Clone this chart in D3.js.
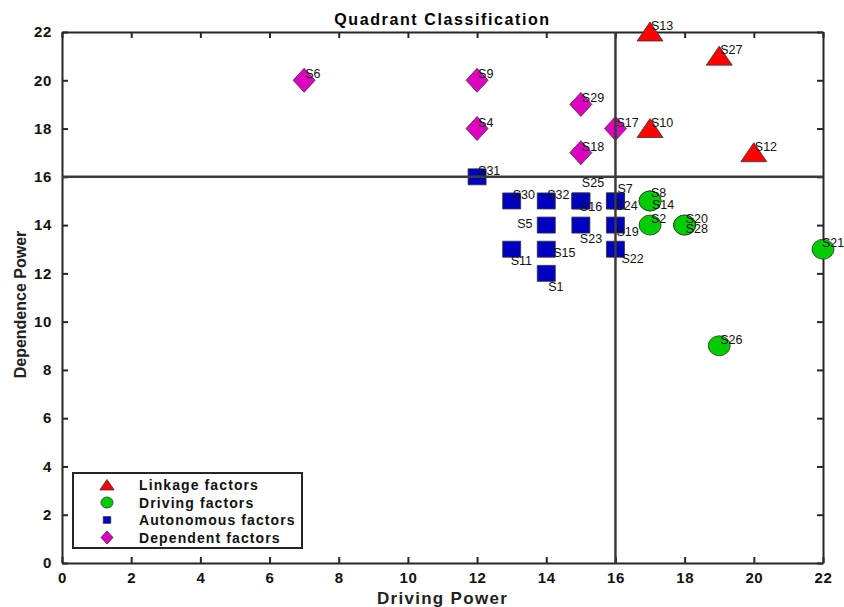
<!DOCTYPE html>
<html>
<head>
<meta charset="utf-8">
<script src="https://cdn.jsdelivr.net/npm/d3@7"></script>
<style>
  body { margin: 0; background: #fff; }
  svg text { font-family: "Liberation Sans", Arial, sans-serif; }
</style>
</head>
<body>
<div id="chart"></div>
<script>
// quadrant data
var linkageNames = ['S13', 'S27', 'S10', 'S12']
var linkageX = [17, 19, 17, 20]
var linkageY = [22, 21, 18, 17]

var drivingNames = ['S8', 'S14', 'S2', 'S20', 'S28', 'S21', 'S26']
var drivingX = [17, 17, 17, 18, 18, 22, 19]
var drivingY = [15, 15, 14, 14, 14, 13, 9]

var autonomousNames = ['S31', 'S30', 'S32', 'S25', 'S16', 'S7', 'S24', 'S5', 'S23', 'S19', 'S11', 'S15', 'S22', 'S1']
var autonomousX = [12, 13, 14, 15, 15, 16, 16, 14, 15, 16, 13, 14, 16, 14]
var autonomousY = [16, 15, 15, 15, 15, 15, 15, 14, 14, 14, 13, 13, 13, 12]

var dependentNames = ['S6', 'S9', 'S4', 'S29', 'S17', 'S18']
var dependentX = [7, 12, 12, 15, 16, 15]
var dependentY = [20, 20, 18, 19, 18, 17]

var xTicks = [0, 2, 4, 6, 8, 10, 12, 14, 16, 18, 20, 22]
var yTicks = [0, 2, 4, 6, 8, 10, 12, 14, 16, 18, 20, 22]
var legendLabels = ['Linkage factors', 'Driving factors', 'Autonomous factors', 'Dependent factors']
var quadrantX = 16, quadrantY = 16

function zipPoints(names, xs, ys, group) {
  return names.map(function(n, i) { return { name: n, x: xs[i], y: ys[i], group: group } })
}

var groups = [
  { key: 'linkage', fill: '#ff0000', points: zipPoints(linkageNames, linkageX, linkageY, 'linkage') },
  { key: 'driving', fill: '#00cc00', points: zipPoints(drivingNames, drivingX, drivingY, 'driving') },
  { key: 'autonomous', fill: '#0000c0', points: zipPoints(autonomousNames, autonomousX, autonomousY, 'autonomous') },
  { key: 'dependent', fill: '#dd00c0', points: zipPoints(dependentNames, dependentX, dependentY, 'dependent') }
]

// label nudges (pixels from the marker), default is up-right
var labelNudge = {
  S25: [0, -12], S16: [-2, 12], S7: [1, -6], S24: [-1, 11],
  S5: [-30, 5], S23: [-2, 20], S19: [0, 13], S11: [-2, 18],
  S15: [6, 10], S22: [5, 16], S1: [1, 20],
  S8: [0, -2], S14: [1, 10], S28: [0, 10], S21: [-2, 0]
}

var width = 844, height = 607
  , margin = { left: 62, right: 21, top: 32, bottom: 44 }
  , xScale = d3.scaleLinear().domain([0, 22]).range([margin.left, width - margin.right])
  , yScale = d3.scaleLinear().domain([0, 22]).range([height - margin.bottom, margin.top])
  , svg = d3.select('#chart').append('svg')
    .attr('width', width)
    .attr('height', height)

// axes with inward ticks on all four sides
var axisColor = '#262626'
function styleAxis(g) {
  g.select('.domain').attr('stroke', axisColor).attr('stroke-width', 2)
  g.selectAll('.tick line').attr('stroke', axisColor).attr('stroke-width', 2)
  g.selectAll('.tick text')
    .attr('fill', '#111')
    .style('font-size', '15px')
    .style('font-weight', 'bold')
    .style('letter-spacing', '0.6px')
}

svg.append('g')
  .attr('transform', 'translate(0,' + yScale(0) + ')')
  .call(d3.axisBottom(xScale).tickValues(xTicks).tickSizeInner(-6).tickSizeOuter(0).tickPadding(9))
  .call(styleAxis)

svg.append('g')
  .attr('transform', 'translate(' + xScale(0) + ',0)')
  .call(d3.axisLeft(yScale).tickValues(yTicks).tickSizeInner(-6).tickSizeOuter(0).tickPadding(10))
  .call(styleAxis)

svg.append('g')
  .attr('transform', 'translate(0,' + yScale(22) + ')')
  .call(d3.axisTop(xScale).tickValues(xTicks).tickSizeInner(-6).tickSizeOuter(0).tickFormat(''))
  .call(styleAxis)

svg.append('g')
  .attr('transform', 'translate(' + xScale(22) + ',0)')
  .call(d3.axisRight(yScale).tickValues(yTicks).tickSizeInner(-6).tickSizeOuter(0).tickFormat(''))
  .call(styleAxis)

// markers
function markerPath(group, s) {
  if (group === 'linkage') return 'M0,' + (-10 * s) + 'L' + (13 * s) + ',' + (9 * s) + 'L' + (-13 * s) + ',' + (9 * s) + 'Z'
  if (group === 'autonomous') return 'M' + (-9 * s) + ',' + (-8 * s) + 'h' + (18 * s) + 'v' + (16 * s) + 'h' + (-18 * s) + 'Z'
  if (group === 'dependent') return 'M0,' + (-12 * s) + 'L' + (11 * s) + ',0L0,' + (12 * s) + 'L' + (-11 * s) + ',0Z'
  // ellipse-ish circle
  var rx = 11 * s, ry = 10 * s
  return 'M' + (-rx) + ',0A' + rx + ',' + ry + ' 0 1,0 ' + rx + ',0A' + rx + ',' + ry + ' 0 1,0 ' + (-rx) + ',0Z'
}

var allPoints = []
groups.forEach(function(g) { allPoints = allPoints.concat(g.points.map(function(p) { p.fill = g.fill; return p })) })

svg.append('g').selectAll('path').data(allPoints).enter().append('path')
  .attr('transform', function(d) { return 'translate(' + xScale(d.x) + ',' + yScale(d.y) + ')' })
  .attr('d', function(d) { return markerPath(d.group, 1) })
  .attr('fill', function(d) { return d.fill })
  .attr('stroke', '#333')
  .attr('stroke-width', 0.8)

// quadrant dividers sit on top of the markers
svg.append('line')
  .attr('x1', xScale(quadrantX)).attr('x2', xScale(quadrantX))
  .attr('y1', yScale(0)).attr('y2', yScale(22))
  .attr('stroke', '#3a3a3a').attr('stroke-width', 2.5)

svg.append('line')
  .attr('x1', xScale(0)).attr('x2', xScale(22))
  .attr('y1', yScale(quadrantY)).attr('y2', yScale(quadrantY))
  .attr('stroke', '#3a3a3a').attr('stroke-width', 2.5)

// point labels
svg.append('g').selectAll('text').data(allPoints).enter().append('text')
  .attr('x', function(d) { return xScale(d.x) + 1 + (labelNudge[d.name] ? labelNudge[d.name][0] : 0) })
  .attr('y', function(d) { return yScale(d.y) - 2 + (labelNudge[d.name] ? labelNudge[d.name][1] : 0) })
  .style('font-size', '12.5px')
  .attr('fill', '#111')
  .text(function(d) { return d.name })

// title and axis labels
svg.append('text')
  .attr('x', (xScale(0) + xScale(22)) / 2)
  .attr('y', 25)
  .attr('text-anchor', 'middle')
  .style('font-size', '16px')
  .style('font-weight', 'bold')
  .style('letter-spacing', '1.6px')
  .text('Quadrant Classification')

svg.append('text')
  .attr('x', (xScale(0) + xScale(22)) / 2)
  .attr('y', 604)
  .attr('text-anchor', 'middle')
  .style('font-size', '17px')
  .style('font-weight', 'bold')
  .style('letter-spacing', '1.3px')
  .attr('fill', '#222')
  .text('Driving Power')

svg.append('text')
  .attr('transform', 'translate(26,' + (yScale(11) - 5 + 12) + ') rotate(-90)')
  .attr('text-anchor', 'middle')
  .style('font-size', '16px')
  .style('font-weight', 'bold')
  .attr('fill', '#222')
  .text('Dependence Power')

// legend
var legend = svg.append('g')
legend.append('rect')
  .attr('x', 73).attr('y', 473)
  .attr('width', 229).attr('height', 75)
  .attr('fill', '#fff')
  .attr('stroke', '#262626')
  .attr('stroke-width', 2)

var legendRows = legend.selectAll('g.row').data(groups).enter().append('g')
  .attr('transform', function(d, i) { return 'translate(107,' + (485 + i * 17.5) + ')' })

legendRows.append('path')
  .attr('d', function(d) { return d.key === 'autonomous' ? markerPath(d.key, 0.42) : markerPath(d.key, 0.55) })
  .attr('fill', function(d) { return d.fill })
  .attr('stroke', '#333')
  .attr('stroke-width', 0.8)

legendRows.append('text')
  .attr('x', 32)
  .attr('y', 5)
  .style('font-size', '14px')
  .style('font-weight', 'bold')
  .style('letter-spacing', '1.1px')
  .attr('fill', '#111')
  .text(function(d, i) { return legendLabels[i] })
</script>
</body>
</html>
